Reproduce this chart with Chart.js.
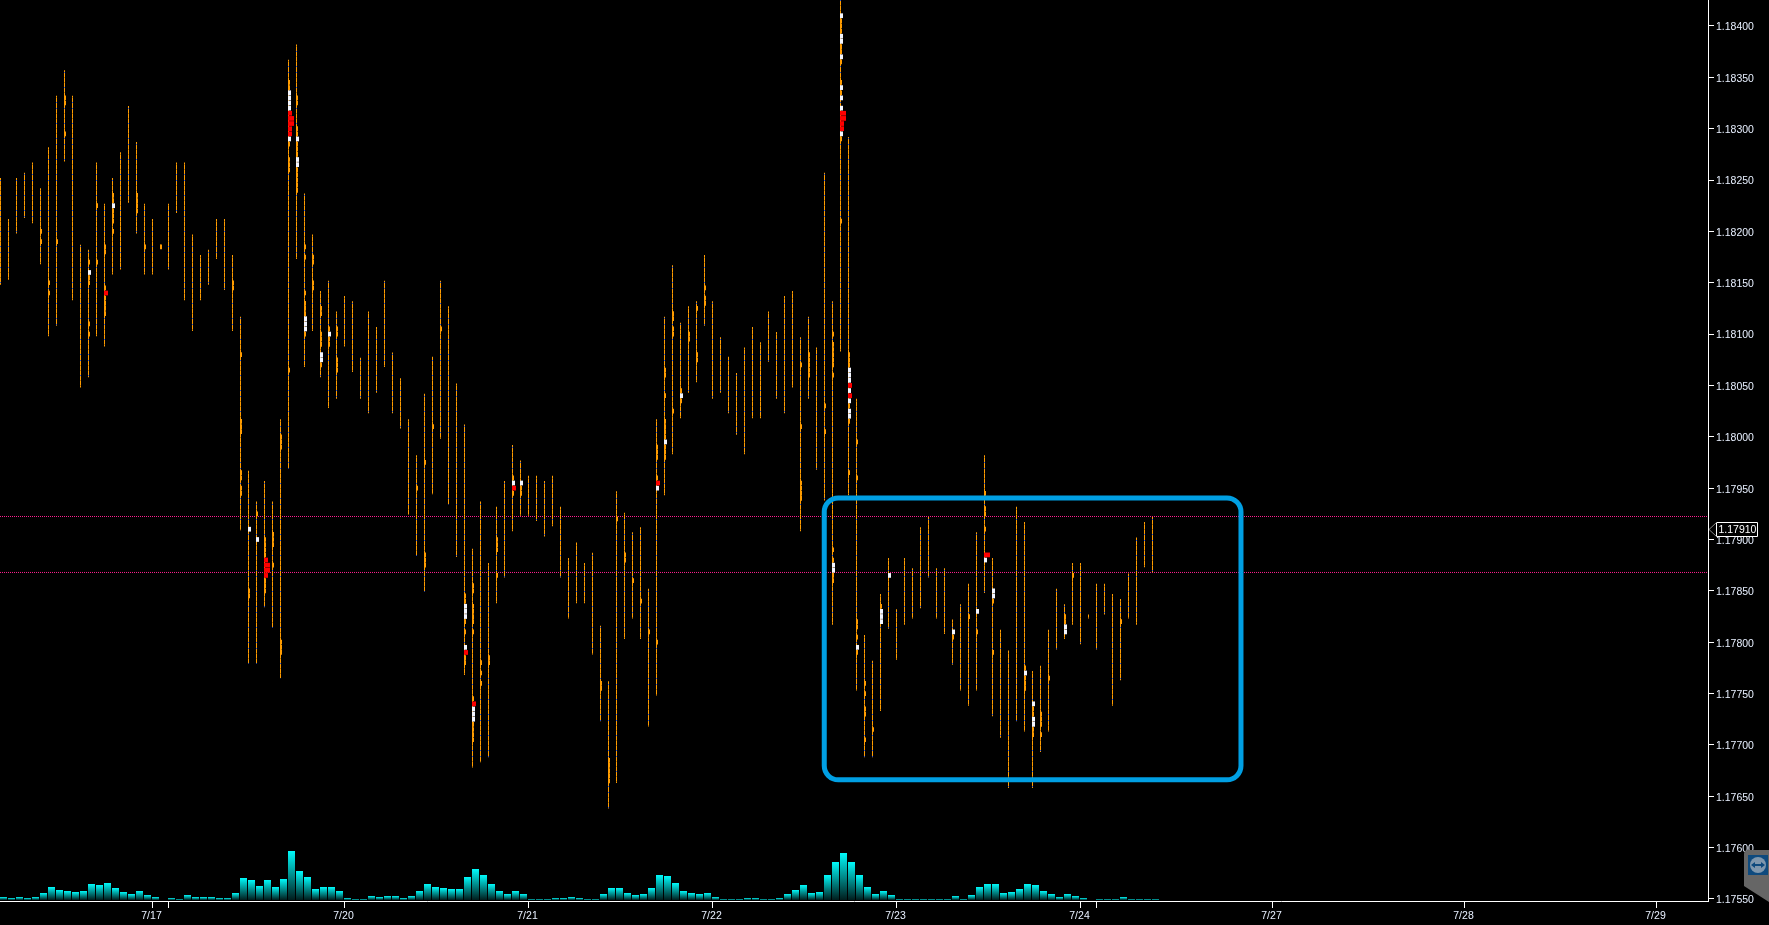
<!DOCTYPE html>
<html>
<head>
<meta charset="utf-8">
<title>EUR/USD bars</title>
<style>html,body{margin:0;padding:0;background:#000;overflow:hidden}canvas{display:block}</style>
<script src="https://cdn.jsdelivr.net/npm/chart.js@4"></script>
</head>
<body>
<canvas id="c" width="1769" height="925"></canvas>
<script>
// All prices in points: price = points / 100000
const barHigh = [118252,118212,118252,118257,118267,118242,118282,118332,118357,118332,118187,118182,118267,118227,118252,118277,118322,118287,118227,118212,118187,118227,118267,118267,118197,118177,118182,118212,118212,118177,118117,117967,117937,117957,117937,118017,118367,118382,118237,118197,118142,118152,118122,118137,118132,118077,118122,118107,118152,118082,118057,118017,117982,118042,118078,118152,118127,118052,118012,117891,117937,117877,117932,117957,117992,117977,117962,117962,117957,117962,117932,117882,117897,117877,117887,117816,117762,117947,117926,117907,117912,117852,118017,118117,118167,118111,118127,118132,118177,118132,118097,118078,118062,118087,118107,118092,118122,118102,118137,118142,118097,118117,118087,118257,118132,118430,118292,118037,117807,117782,117847,117882,117832,117882,117872,117912,117922,117872,117872,117822,117837,117857,117907,117982,117882,117812,117792,117932,117917,117772,117777,117812,117852,117837,117877,117877,117827,117857,117857,117847,117842,117867,117902,117917,117922];
const barLow = [118148,118153,118198,118213,118208,118168,118098,118108,118268,118133,118048,118058,118098,118088,118158,118163,118228,118198,118158,118158,118183,118163,118218,118133,118103,118133,118148,118173,118143,118103,117909,117779,117779,117834,117814,117765,117969,118173,118068,118103,118058,118028,118037,118088,118063,118037,118023,118043,118068,118023,118008,117924,117884,117849,117944,117998,117934,117883,117768,117678,117683,117688,117838,117863,117908,117923,117923,117918,117903,117913,117863,117823,117838,117838,117788,117723,117638,117663,117803,117823,117803,117718,117748,117943,117983,118018,118043,118053,118108,118037,118043,118023,118002,117983,118018,118018,118073,118037,118023,118048,117908,118037,117968,117938,117817,118083,117943,117753,117688,117688,117733,117813,117783,117817,117823,117833,117863,117823,117808,117778,117753,117738,117753,117848,117728,117707,117658,117723,117713,117658,117693,117713,117793,117803,117817,117798,117823,117793,117827,117738,117763,117823,117817,117873,117868];
const volumeValues = [3,2,3,2,3,7,13,10,9,8,9,16,15,17,12,8,6,9,5,3,0,2,1,5,3,3,3,2,2,7,22,20,14,20,13,21,49,29,23,11,13,13,9,2,1,1,4,3,4,4,2,4,9,16,13,12,11,11,23,31,25,16,9,6,9,6,1,1,1,2,2,3,2,1,1,6,12,12,7,5,6,12,25,24,17,9,7,6,7,3,1,1,1,2,2,1,1,2,6,10,15,7,8,25,38,47,38,25,13,6,9,5,1,1,1,1,1,1,1,4,1,5,13,16,16,7,8,11,16,15,9,6,3,6,4,2,0,1,1,1,3,1,1,1,1];

// [bar, price rows...]
const orangeMarks = [
[5,118200,118190],[6,118150,118140],[7,118190],[8,118330,118325,118295],
[11,118170,118155,118150,118110,118100],[12,118225,118170],
[13,118185,118180,118145,118135,118130,118125,118120],[14,118235,118230,118220,118215,118210,118200],
[17,118235,118230,118225,118220],[18,118185],[20,118185],[29,118150,118145],
[30,118080,118015,118010,118005,117965,117960,117950,117945],[31,117850,117845],[32,117925],
[33,117900,117895,117890,117885,117860,117855,117850],[34,117905,117900,117895,117875],
[35,118000,117995,117990,117800,117795,117790],[36,118345,118340,118285,118270,118265,118260,118065],
[37,118330,118325,118300,118295,118285,118280,118275,118260,118255,118250,118245,118240],
[38,118185,118175,118140,118130,118125,118120,118100],[39,118175,118170,118150,118145],
[40,118125,118120,118100,118095,118090,118070],[41,118105,118095,118090],[42,118105,118100,118075,118070,118065],
[52,117950],[53,117975,117885,117880,117875],[54,118010],[55,118105],
[58,117845,117840,117820,117810,117785,117780],
[59,117855,117850,117835,117830,117825,117820,117810,117745,117720,117715,117710,117705],
[60,117780,117770,117760],[61,117785,117780],[62,117900,117895,117890,117865],[64,117960,117945],[65,117950,117945],
[75,117760,117755],[76,117685,117680,117675,117670,117665],[77,117920],[78,117885,117880],[79,117860],[80,117840],[81,117810],
[82,117990,117985,117980,117960,117800],[83,118065,118060,118040,118015,118010,118005,118000,117990,117985,117980],
[84,118120,118115,118105,118100,118025],[85,118045,118035],[86,118100,118095],[87,118125,118080,118075],[88,118145,118135,118130],
[100,118070,118010,117955,117950,117945,117940],[101,118080,118075,118070,118065,118060],[103,118030,118005],
[104,118100,118090,118085,118080,118075,118070,118060,117890,117880,117865,117860],
[105,118405,118400,118395,118380,118375,118365,118345,118335,118290,118210],
[106,118080,118075,118070,118030,118015,117965],[107,117995,117960,117820,117815,117805,117790],
[108,117760,117750,117735,117730,117705],[109,117715],[110,117835],[119,117805],[121,117825],[122,117810],
[123,117945,117930,117925,117910],[124,117840,117790],[128,117775,117765,117760,117755],
[129,117735,117730,117715,117710],[130,117730,117725,117720,117710],[131,117765],[133,117825,117820],[134,117865],[140,117820]
];
const whiteMarks = [
[11,118160],[14,118225],[31,117910],[32,117900],[36,118335,118330,118325,118320,118290],[37,118290,118270,118265],
[38,118115,118110,118105],[40,118080,118075],[41,118100],[58,117835,117830,117825,117795],[59,117735,117730,117725],
[64,117955],[65,117955],[82,117950],[83,117995],[85,118040],[104,117875,117870],
[105,118410,118390,118385,118370,118340,118330,118320,118295],
[106,118065,118060,118055,118045,118035,118025,118020],[107,117795],[110,117830,117825,117820],[111,117865],
[119,117810],[122,117830],[123,117880],[124,117850,117845],[128,117770],[129,117740,117725,117720],[133,117815,117810]
];
const redMarks = [[13,118140],[33,117880,117865],[36,118315,118300,118295],[58,117790],[59,117740],[64,117950],[82,117955],[105,118305,118300],[106,118050,118040]];
const redWideMarks = [[33,117875,117870],[36,118310,118305],[105,118315,118310],[123,117885]];

const xTickBars = [19,21,43,66,89,112,135,137,159,183,207];
const xTickLabels = ['7/17','','7/20','7/21','7/22','7/23','7/24','','7/27','7/28','7/29'];
const yTickValues = [1.1755,1.176,1.1765,1.177,1.1775,1.178,1.1785,1.179,1.1795,1.18,1.1805,1.181,1.1815,1.182,1.1825,1.183,1.1835,1.184];
const levelPrices = [1.179224,1.178679];
const lastPrice = 1.1791;
// highlighted region: first bar, last bar, top price, bottom price
const boxBars = [102.97,155.06];
const boxPrices = [1.179405,1.17666];

const xMin = -0.0625, xMax = 213.4375;
const bars = barHigh.map((h,i)=>({x:i,y:[barLow[i]/1e5,Math.min(h,118430)/1e5]}));
const volumes = volumeValues.map((v,i)=>({x:i+0.375,y:v}));
function markData(list,w){
  const off=(w/2-0.5)/8, out=[];
  list.forEach(r=>r.slice(1).forEach(p=>out.push({x:r[0]+off,y:[(p-2.3)/1e5,(p+2.3)/1e5]})));
  return out;
}
function linePattern(ctx){
  const t=document.createElement('canvas'); t.width=1; t.height=36;
  const c=t.getContext('2d'); c.fillStyle='#ff9c00'; c.fillRect(0,0,1,36);
  for(let k=0;k<7;k++){ c.fillStyle=(k%3===0)?'#2a50c8':'#b87000'; c.fillRect(0,Math.floor(k*36/7),1,1); }
  return ctx.createPattern(t,'repeat');
}
const ctx=document.getElementById('c').getContext('2d');
const font={family:"'Liberation Sans',Arial,sans-serif",size:10.5};
const overlay={
  id:'overlay',
  afterDatasetsDraw(chart){
    const c=chart.ctx,x=chart.scales.x,y=chart.scales.y;
    c.save();
    c.strokeStyle='#009fe3'; c.lineWidth=5;
    const l=x.getPixelForValue(boxBars[0]),r=x.getPixelForValue(boxBars[1]),t=y.getPixelForValue(boxPrices[0]),b=y.getPixelForValue(boxPrices[1]);
    c.beginPath(); c.roundRect(l,t,r-l,b-t,14); c.stroke();
    c.restore();
  },
  afterDraw(chart){
    const c=chart.ctx,y=chart.scales.y,a=chart.chartArea.right;
    const py=Math.round(y.getPixelForValue(lastPrice))+0.5;
    c.save();
    c.fillStyle='#000'; c.strokeStyle='#fff'; c.lineWidth=1;
    c.beginPath(); c.moveTo(1757.5,py-7); c.lineTo(1716.5,py-7); c.lineTo(1716.5,py+7); c.lineTo(1757.5,py+7); c.closePath(); c.fill(); c.stroke();
    c.strokeStyle='#888';
    c.beginPath(); c.moveTo(1716.5,py-7); c.lineTo(a+1,py); c.lineTo(1716.5,py+7); c.stroke();
    c.fillStyle='#fff'; c.font="10.5px 'Liberation Sans',Arial,sans-serif"; c.textBaseline='middle'; c.textAlign='left';
    c.fillText(lastPrice.toFixed(5),1718.5,py+1);
    // remote-control tab at the screen corner
    c.fillStyle='#666666';
    c.beginPath(); c.moveTo(1769,850); c.lineTo(1748,850); c.quadraticCurveTo(1744,850,1744,854); c.lineTo(1744,886); c.lineTo(1769,902); c.closePath(); c.fill();
    c.fillStyle='#0e4a7e'; c.fillRect(1748,855,20,20);
    c.fillStyle='#7f97ad'; c.beginPath(); c.arc(1758,865,8,0,Math.PI*2); c.fill();
    c.fillStyle='#0e4a7e'; c.beginPath();
    c.moveTo(1751,865);c.lineTo(1755,862);c.lineTo(1755,864);c.lineTo(1761,864);c.lineTo(1761,862);c.lineTo(1765,865);c.lineTo(1761,868);c.lineTo(1761,866);c.lineTo(1755,866);c.lineTo(1755,868);c.closePath();c.fill();
    c.restore();
  }
};
const barOpts={type:'bar',grouped:false,borderWidth:0,inflateAmount:0,yAxisID:'y'};
new Chart(ctx,{
  type:'bar',
  data:{datasets:[
    {...barOpts,label:'Volume',data:volumes,yAxisID:'y2',barThickness:7,order:9,
      backgroundColor(cx){
        if(cx.type!=='data') return '#00ffff';
        const s=cx.chart.scales.y2,v=volumeValues[cx.dataIndex];
        const top=s?s.getPixelForValue(v):NaN, base=s?s.getPixelForValue(0):NaN;
        if(!Number.isFinite(top)||!Number.isFinite(base)) return '#00ffff';
        const g=cx.chart.ctx.createLinearGradient(0,top,0,base);
        g.addColorStop(0,'#00fbfb'); g.addColorStop(1,'#001c1c');
        return g;
      }},
    {type:'line',label:'Level 1',data:[{x:xMin,y:levelPrices[0]},{x:xMax,y:levelPrices[0]}],borderColor:'#ff2090',borderWidth:1,borderDash:[1,1],pointRadius:0,tension:0,yAxisID:'y',order:8},
    {type:'line',label:'Level 2',data:[{x:xMin,y:levelPrices[1]},{x:xMax,y:levelPrices[1]}],borderColor:'#ff2090',borderWidth:1,borderDash:[1,1],pointRadius:0,tension:0,yAxisID:'y',order:8},
    {...barOpts,label:'Range',data:bars,barThickness:1,backgroundColor:linePattern(ctx),order:5},
    {...barOpts,label:'Orange',data:markData(orangeMarks,2),barThickness:2,backgroundColor:'#ff9c00',order:4},
    {...barOpts,label:'White',data:markData(whiteMarks,3),barThickness:3,backgroundColor:'#f4f6ff',order:3},
    {...barOpts,label:'Red',data:markData(redMarks,4),barThickness:4,backgroundColor:'#ff0000',order:2},
    {...barOpts,label:'Red wide',data:markData(redWideMarks,6),barThickness:6,backgroundColor:'#ff0000',order:1}
  ]},
  options:{
    responsive:false,animation:false,devicePixelRatio:1,
    layout:{padding:0},
    plugins:{legend:{display:false},tooltip:{enabled:false}},
    events:[],
    scales:{
      x:{type:'linear',position:'bottom',min:xMin,max:xMax,offset:false,
        grid:{offset:false,drawOnChartArea:false,drawTicks:true,tickLength:7,color:'#fff',tickWidth:1},
        border:{color:'#fff',width:1},
        afterFit(s){s.height=24;s.paddingLeft=0;s.paddingRight=0;},
        afterBuildTicks(s){s.ticks=xTickBars.map(v=>({value:v}));},
        ticks:{autoSkip:false,maxRotation:0,minRotation:0,color:'#e8f0ff',font,padding:2,labelOffset:-1,
          callback(v){const i=xTickBars.indexOf(v);return i<0?'':xTickLabels[i];}}
      },
      y:{type:'linear',position:'right',min:1.17548,max:1.184253,
        grid:{drawOnChartArea:false,drawTicks:true,tickLength:6,color:'#fff'},
        border:{color:'#fff',width:1},
        afterFit(s){s.width=61;s.paddingTop=0;s.paddingBottom=0;},
        afterBuildTicks(s){s.ticks=yTickValues.map(v=>({value:v}));},
        ticks:{autoSkip:false,color:'#e8f0ff',font,padding:2,labelOffset:1.5,callback(v){return Number(v).toFixed(5);}}
      },
      y2:{type:'linear',display:false,min:-1,max:900}
    }
  },
  plugins:[overlay]
});
</script>
</body>
</html>
